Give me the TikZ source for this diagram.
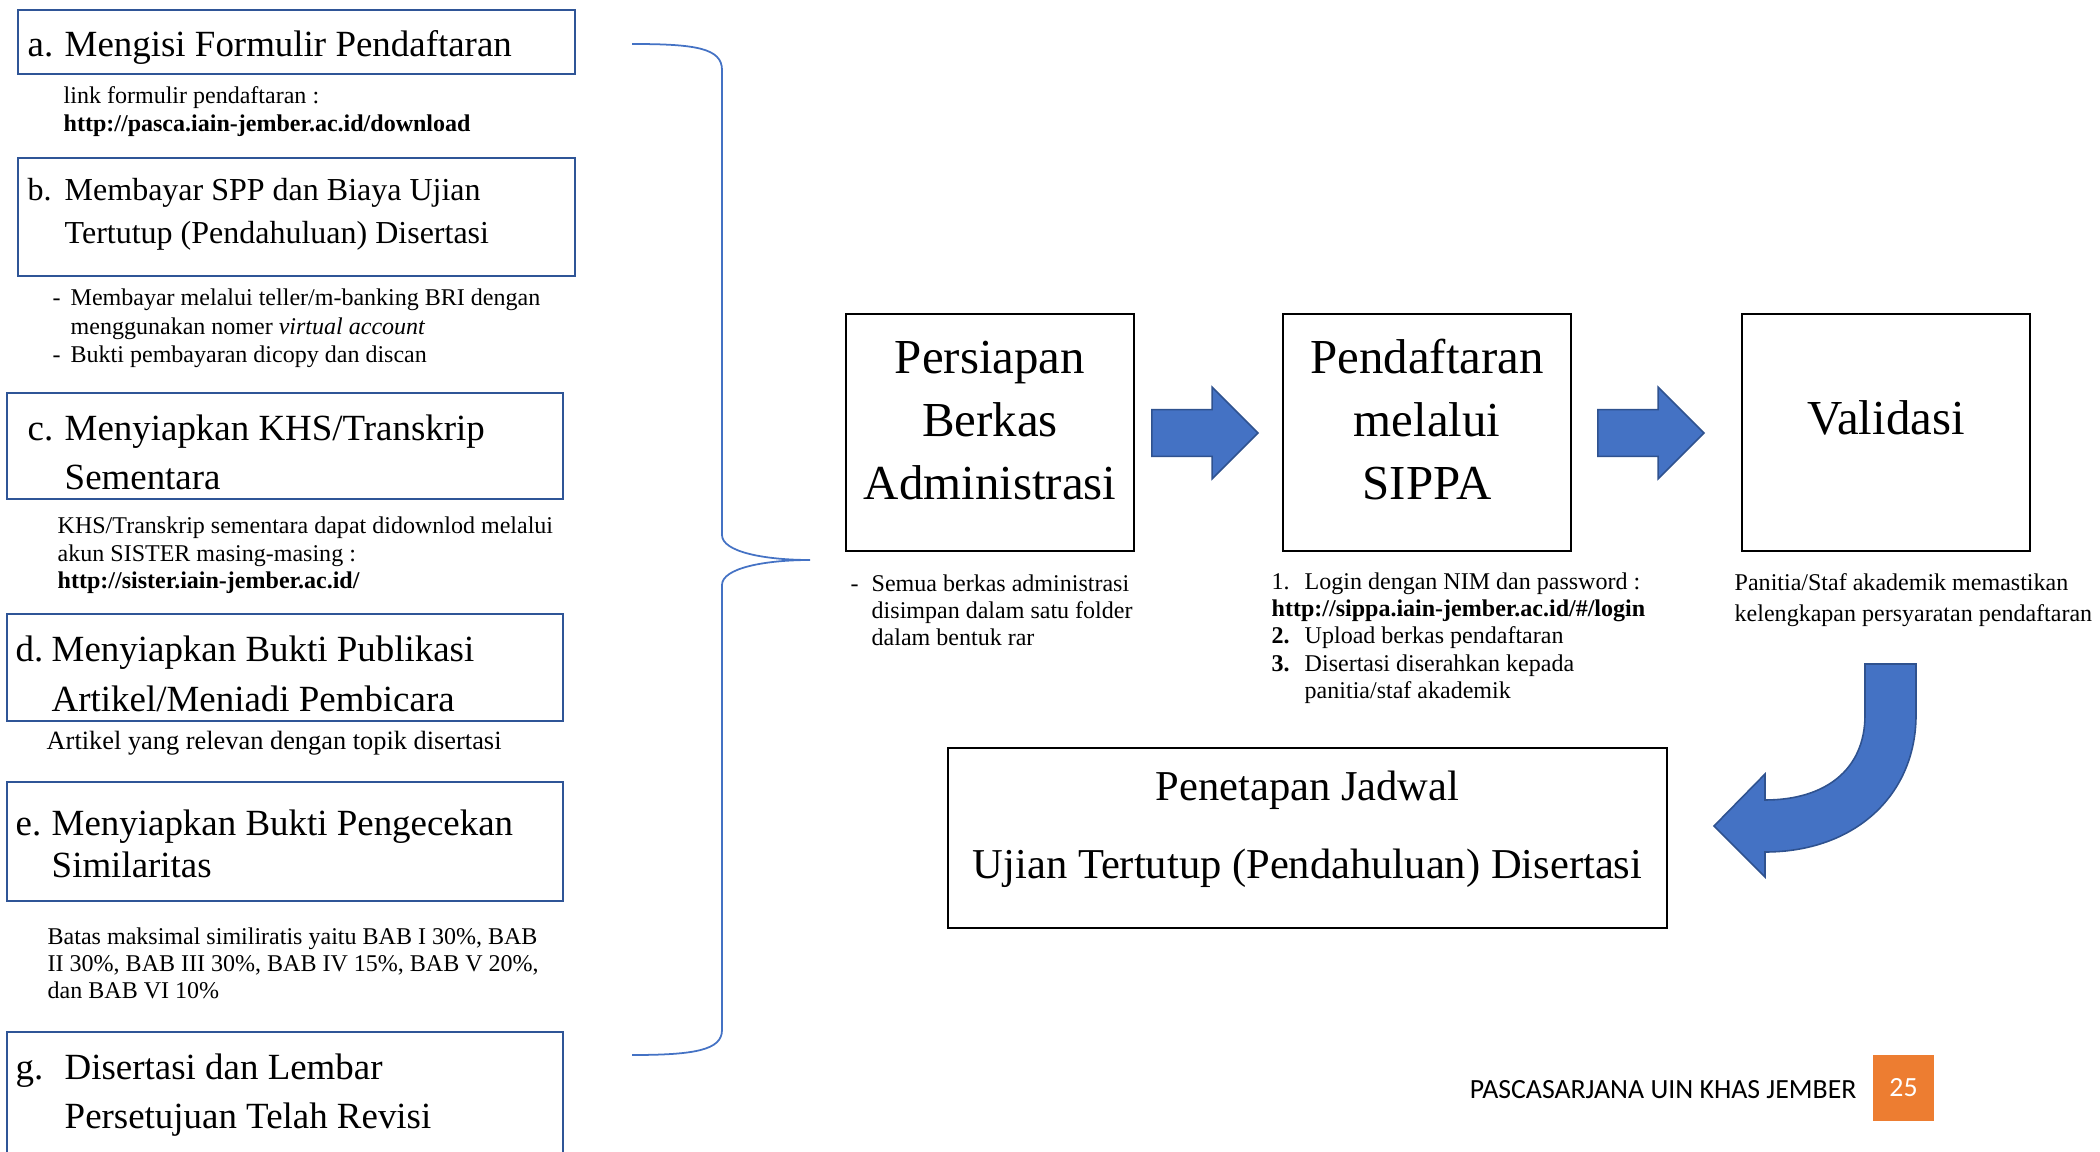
\documentclass[tikz,border=0pt]{standalone}
\usepackage{fontspec}
\setmainfont{Liberation Serif}
\newfontfamily\footfont{Carlito}
\usetikzlibrary{shapes.arrows}

\definecolor{boxblue}{HTML}{2F5597}
\definecolor{arrowblue}{HTML}{4472C4}
\definecolor{arrowedge}{HTML}{2F528F}
\definecolor{pageorange}{HTML}{ED7D31}

\newcommand\ttlfont{\fontsize{10.5}{11.95}\selectfont}
\newcommand\notefont{\fontsize{6.83}{7.8}\selectfont}
\newcommand\boxfont{\fontsize{13.9}{17.9}\selectfont}
\newcommand\jadwalfont{\fontsize{12.1}{22.2}\selectfont}

\tikzset{
  stepbox/.style={draw=boxblue, line width=0.75pt, inner sep=0pt, minimum width=5.56cm},
  mainbox/.style={draw=black, line width=0.5pt, inner sep=0pt},
  ttl/.style={anchor=base west, inner sep=0pt, font=\ttlfont},
  note/.style={anchor=base west, inner sep=0pt, font=\notefont},
  mtxt/.style={anchor=base, inner sep=0pt, font=\boxfont},
  blockarrow/.style={single arrow, fill=arrowblue, draw=arrowedge, line width=0.45pt,
    inner xsep=0pt, inner ysep=0.225cm, minimum height=1.06cm, minimum width=0.9cm,
    single arrow head extend=0.225cm, anchor=tip}
}

\begin{document}
\begin{tikzpicture}[x=0.01cm,y=-0.01cm]
  \useasboundingbox (0,0) rectangle (2100,1152);
  \clip (0,0) rectangle (2100,1152);

  % left column: steps
  \node[stepbox, minimum width=5.57cm, minimum height=0.64cm] (a) at (296.5,42) {};
  \node[ttl] (ta) at (27,57) {\begin{tabular}[t]{@{}p{0.37cm}@{}l@{}}a.&Mengisi Formulir Pendaftaran\end{tabular}};
  \node[note] (na) at (63,104) {\begin{tabular}[t]{@{}l@{}}link formulir pendaftaran :\\
    \textbf{http://pasca.iain-jember.ac.id/download}\end{tabular}};

  \node[stepbox, minimum width=5.57cm, minimum height=1.18cm] (b) at (296.5,217) {};
  \node[ttl] (tb) at (27,201) {\fontsize{9.1}{11.95}\selectfont\begin{tabular}[t]{@{}p{0.37cm}@{}l@{}}b.&Membayar SPP dan Biaya Ujian\\
    &Tertutup (Pendahuluan) Disertasi\end{tabular}};
  \node[note] (nb) at (52,306) {\fontsize{6.83}{8.1}\selectfont\begin{tabular}[t]{@{}p{0.18cm}@{}l@{}}-&Membayar melalui teller/m-banking BRI dengan\\
    &menggunakan nomer \textit{virtual account}\\
    -&Bukti pembayaran dicopy dan discan\end{tabular}};

  \node[stepbox, minimum height=1.06cm] (c) at (285,446) {};
  \node[ttl] (tc) at (27,441) {\begin{tabular}[t]{@{}p{0.37cm}@{}l@{}}c.&Menyiapkan KHS/Transkrip\\[0.06cm]
    &Sementara\end{tabular}};
  \node[note] (nc) at (57,534) {\begin{tabular}[t]{@{}l@{}}KHS/Transkrip sementara dapat didownlod melalui\\
    akun SISTER masing-masing :\\
    \textbf{http://sister.iain-jember.ac.id/}\end{tabular}};

  \node[stepbox, minimum height=1.07cm] (d) at (285,667.5) {};
  \node[ttl] (td) at (15,661) {\begin{tabular}[t]{@{}p{0.36cm}@{}l@{}}d.&Menyiapkan Bukti Publikasi\\[0.08cm]
    &Artikel/Meniadi Pembicara\end{tabular}};
  \node[note, font=\fontsize{7.5}{8.5}\selectfont] (nd) at (46,749) {Artikel yang relevan dengan topik disertasi};

  \node[stepbox, minimum height=1.19cm] (e) at (285,841.5) {};
  \node[ttl] (te) at (15,835) {\begin{tabular}[t]{@{}p{0.36cm}@{}l@{}}e.&Menyiapkan Bukti Pengecekan\\
    &Similaritas\end{tabular}};
  \node[note] (ne) at (47,944) {\begin{tabular}[t]{@{}l@{}}Batas maksimal similiratis yaitu BAB I 30\%, BAB\\
    II 30\%, BAB III 30\%, BAB IV 15\%, BAB V 20\%,\\
    dan BAB VI 10\%\end{tabular}};

  \node[stepbox, minimum height=1.38cm] (g) at (285,1101) {};
  \node[ttl] (tg) at (15,1079) {\begin{tabular}[t]{@{}p{0.49cm}@{}l@{}}g.&Disertasi dan Lembar\\[0.07cm]
    &Persetujuan Telah Revisi\end{tabular}};

  % brace
  \draw[arrowblue, line width=0.5pt]
    (632,44) .. controls (695,44) and (722,48) .. (722,70) -- (722,535)
    .. controls (722,552) and (765,560) .. (810,560)
    .. controls (765,560) and (722,568) .. (722,585) -- (722,1030)
    .. controls (722,1050) and (695,1055) .. (632,1055);

  % main flow
  \node[mainbox, minimum width=2.88cm, minimum height=2.37cm] (prs) at (990,432.5) {};
  \node[mtxt] (tprs) at (990,374) {\begin{tabular}[t]{@{}c@{}}Persiapan\\Berkas\\Administrasi\end{tabular}};
  \node[mainbox, minimum width=2.88cm, minimum height=2.37cm] (pdf) at (1427,432.5) {};
  \node[mtxt] (tpdf) at (1427,374) {\begin{tabular}[t]{@{}c@{}}Pendaftaran\\melalui\\SIPPA\end{tabular}};
  \node[mainbox, minimum width=2.88cm, minimum height=2.37cm] (val) at (1886,432.5) {};
  \node[mtxt] (tval) at (1886,435) {Validasi};

  \node[blockarrow] (ar1) at (1259,433) {};
  \node[blockarrow] (ar2) at (1705,433) {};

  \node[note] (nprs) at (850,591) {\begin{tabular}[t]{@{}p{0.21cm}@{}l@{}}-&Semua berkas administrasi\\
    &disimpan dalam satu folder\\ &dalam bentuk rar\end{tabular}};
  \node[note] (npdf) at (1271,589) {\begin{tabular}[t]{@{}p{0.33cm}@{}l@{}}1.&Login dengan NIM dan password :\\
    \multicolumn{2}{@{}l@{}}{\bfseries http://sippa.iain-jember.ac.id/\#/login}\\
    \textbf{2.}&Upload berkas pendaftaran\\
    \textbf{3.}&Disertasi diserahkan kepada\\
    &panitia/staf akademik\end{tabular}};
  \node[note] (nval) at (1734,590) {\fontsize{6.83}{8.9}\selectfont\begin{tabular}[t]{@{}l@{}}Panitia/Staf akademik memastikan\\
    kelengkapan persyaratan pendaftaran\end{tabular}};

  % turn arrow down to the schedule
  \filldraw[fill=arrowblue, draw=arrowedge, line width=0.45pt]
    (1865,664) -- (1916,664) -- (1916,715)
    .. controls (1916,795) and (1855,852) .. (1765,852)
    -- (1765,877) -- (1714,826) -- (1765,774) -- (1765,800)
    .. controls (1825,800) and (1865,770) .. (1865,715) -- cycle;

  \node[mainbox, minimum width=7.19cm, minimum height=1.8cm] (jdw) at (1307.5,838) {};
  \node[anchor=base, inner sep=0pt, font=\jadwalfont] (tjdw) at (1307.5,800) {\begin{tabular}[t]{@{}c@{}}Penetapan Jadwal\\
    Ujian Tertutup (Pendahuluan) Disertasi\end{tabular}};

  % footer
  \node[anchor=base east, inner sep=0pt, font=\footfont\fontsize{7.9}{9}\selectfont] (foot) at (1857,1098) {PASCASARJANA UIN KHAS JEMBER};
  \node[fill=pageorange, inner sep=0pt, minimum width=0.61cm, minimum height=0.66cm,
    text=white, font=\footfont\fontsize{7.9}{9}\selectfont] (pg) at (1903.5,1088) {25};
\end{tikzpicture}
\end{document}
